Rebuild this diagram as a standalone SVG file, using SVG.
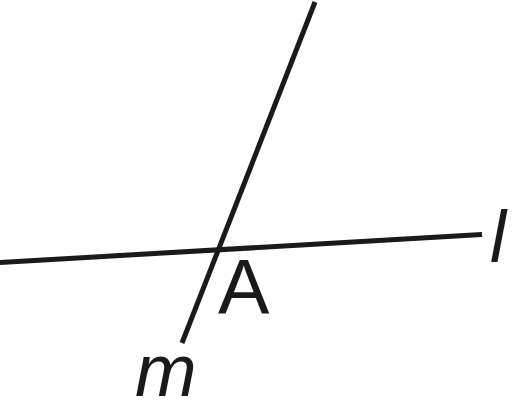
<svg xmlns="http://www.w3.org/2000/svg" width="512" height="400" viewBox="0 0 512 400">
<style>
.ln{stroke:#1a1a1a;stroke-width:5;fill:none}
.lb{font-family:"Liberation Sans",Arial,sans-serif;fill:#1a1a1a}
</style>
<rect width="512" height="400" fill="#fff"/>
<g id="connectors">
<line class="ln" x1="0" y1="262.5" x2="482" y2="234.5"/>
<line class="ln" x1="315" y1="2" x2="182" y2="343"/>
</g>
<g id="label-l"><text class="lb" x="490" y="262" font-size="72" font-style="italic">l</text></g>
<g id="label-A"><text class="lb" x="218" y="314" font-size="77">A</text></g>
<g id="label-m"><text class="lb" x="135" y="396" font-size="74" font-style="italic">m</text></g>
</svg>
